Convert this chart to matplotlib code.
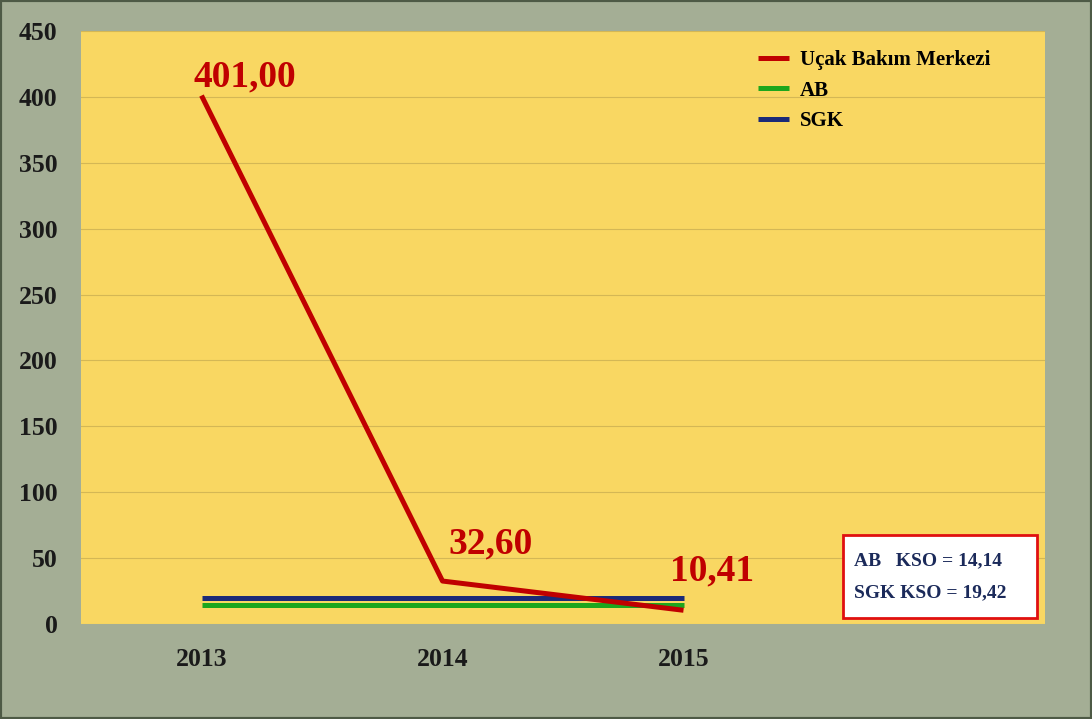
import matplotlib
matplotlib.use("Agg")
import matplotlib.pyplot as plt
from matplotlib.patches import Rectangle

years = ["2013", "2014", "2015"]
ucak = [401.00, 32.60, 10.41]
ab = [14.14, 14.14, 14.14]
sgk = [19.42, 19.42, 19.42]
labels = ["401,00", "32,60", "10,41"]
yticks = [0, 50, 100, 150, 200, 250, 300, 350, 400, 450]

plt.rcParams['font.family'] = ['Liberation Serif', 'DejaVu Serif']

fig = plt.figure(figsize=(10.92, 7.19), dpi=100, facecolor="#A4AE95")
ax = fig.add_axes([81/1092, 1-624/719, (1045-81)/1092, (624-31)/719])
ax.set_facecolor("#F9D762")

x = list(range(len(years)))
ax.plot(x, ucak, color="#C00000", lw=3.6, label="Uçak Bakım Merkezi", solid_capstyle="butt", zorder=3)
ax.plot(x, ab, color="#1DA61D", lw=3.6, label="AB", solid_capstyle="butt", zorder=2)
ax.plot(x, sgk, color="#1B2A78", lw=3.6, label="SGK", solid_capstyle="butt", zorder=2)

ax.set_xlim(-0.5, 3.5)
ax.set_ylim(0, 450)
ax.set_xticks(x)
ax.set_xticklabels(years)
ax.set_yticks(yticks)
ax.grid(axis="y", color="#D4B755", lw=0.8)
ax.set_axisbelow(True)
for s in ax.spines.values():
    s.set_visible(False)
ax.tick_params(length=0, labelsize=18.5, colors="#1a1a1a")
ax.tick_params(axis="x", pad=17)
ax.tick_params(axis="y", pad=17)
for t in ax.get_xticklabels() + ax.get_yticklabels():
    t.set_fontweight("bold")

offsets = [(0.18, 14), (0.2, 28), (0.12, 30)]
for xi, v, lab, (dx, dy) in zip(x, ucak, labels, offsets):
    ax.text(xi + dx, v + dy, lab, color="#C00000", fontsize=27, fontweight="bold",
            ha="center", va="center")

leg = ax.legend(loc="upper left", bbox_to_anchor=(0.683, 0.999), frameon=False,
                prop={"weight": "bold", "size": 15}, handlelength=1.5,
                labelspacing=0.5, handletextpad=0.5)

# KSO box
bx0 = (843 - 81) / (1045 - 81)
by0 = (624 - 618) / (624 - 31)
bw = (1037 - 843) / (1045 - 81)
bh = (618 - 535) / (624 - 31)
ax.add_patch(Rectangle((bx0, by0), bw, bh, transform=ax.transAxes,
                       facecolor="white", edgecolor="#E01010", lw=2, zorder=5))
ax.text(bx0 + 0.011, by0 + bh * 0.69, "AB   KSO = 14,14", transform=ax.transAxes,
        color="#1B2A5A", fontsize=14, fontweight="bold", va="center", zorder=6)
ax.text(bx0 + 0.011, by0 + bh * 0.3, "SGK KSO = 19,42", transform=ax.transAxes,
        color="#1B2A5A", fontsize=14, fontweight="bold", va="center", zorder=6)

fig.patches.append(Rectangle((0, 0), 1, 1, transform=fig.transFigure,
                             fill=False, edgecolor="#4E5A46", lw=3))

fig.savefig("out.png", dpi=100, facecolor=fig.get_facecolor())
